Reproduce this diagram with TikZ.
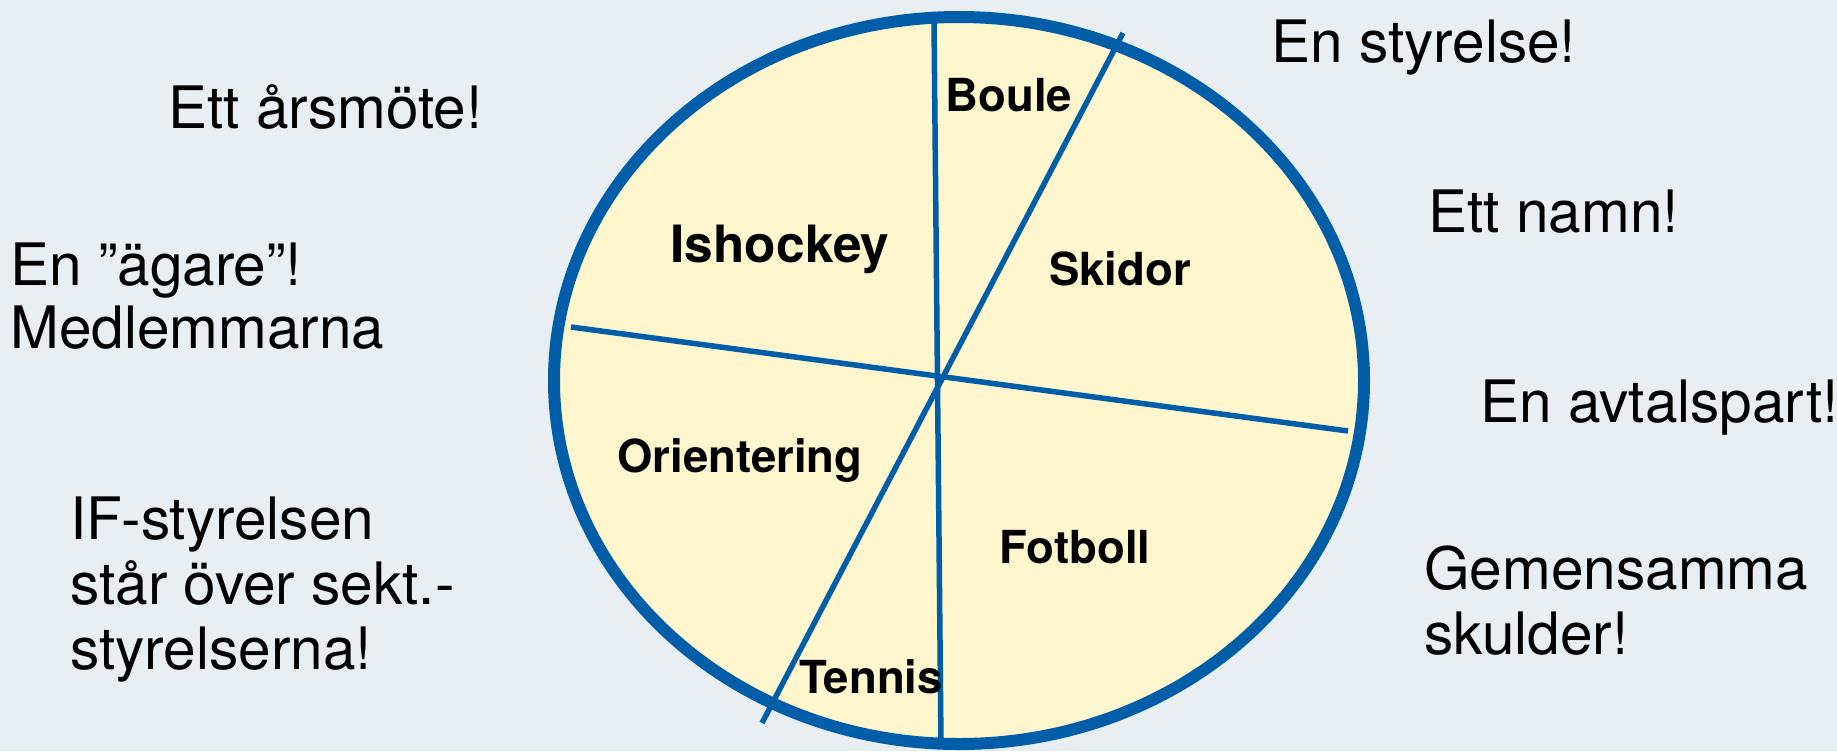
\documentclass[tikz,border=0pt]{standalone}
\usepackage{fontspec}
\setmainfont{TeX Gyre Heros}

\definecolor{bggrey}{RGB}{232,238,242}
\definecolor{pieyellow}{RGB}{255,246,206}
\definecolor{rimblue}{RGB}{0,94,168}

\tikzset{
  note/.style={anchor=base west,inner sep=0pt,align=left,font=\fontsize{29.25}{32.5}\selectfont},
  sport/.style={anchor=base,inner sep=0pt,font=\fontsize{22.75}{26}\selectfont\bfseries},
  chord/.style={draw=rimblue,line width=2.75pt}
}

\begin{document}
\begin{tikzpicture}[x=0.5pt,y=-0.5pt]
    \fill[bggrey] (0,0) rectangle (1837,751);
    \useasboundingbox (0,0) rectangle (1837,751);

    % the club
    \fill[pieyellow] (959,380.5) ellipse [x radius=405,y radius=363.5];

    \coordinate (vtop) at (934,22);
    \coordinate (vbot) at (941,744);
    \coordinate (htop) at (571,327);
    \coordinate (hbot) at (1348,431);
    \coordinate (stop) at (1123,33);
    \coordinate (sbot) at (762,723);
    \draw[chord] (vtop) -- (vbot);
    \draw[chord] (htop) -- (hbot);
    \draw[chord] (stop) -- (sbot);

    \draw[rimblue,line width=6pt] (959,380.5) ellipse [x radius=405,y radius=363.5];

    % sections
    \node[sport,font=\fontsize{25.7}{29}\selectfont\bfseries] (ishockey) at (780,262) {Ishockey};
    \node[sport] (boule) at (1009,111) {Boule};
    \node[sport] (skidor) at (1120,285) {Skidor};
    \node[sport] (orient) at (740,472) {Orientering};
    \node[sport] (fotboll) at (1075,563) {Fotboll};
    \node[sport] (tennis) at (871,693) {Tennis};

    % what they share (multi-line: base is the last line)
    \node[note] (arsmote) at (168,128) {Ett årsmöte!};
    \node[note,font=\fontsize{29.25}{31.5}\selectfont] (agare) at (10,348) {En ”ägare”!\\Medlemmarna};
    \node[note] (ifstyr) at (70,669) {IF-styrelsen\\står över sekt.-\\styrelserna!};
    \node[note] (styrelse) at (1271,62) {En styrelse!};
    \node[note] (namn) at (1428,232) {Ett namn!};
    \node[note] (avtal) at (1480,422) {En avtalspart!};
    \node[note] (skulder) at (1424,654) {Gemensamma\\skulder!};
\end{tikzpicture}
\end{document}
